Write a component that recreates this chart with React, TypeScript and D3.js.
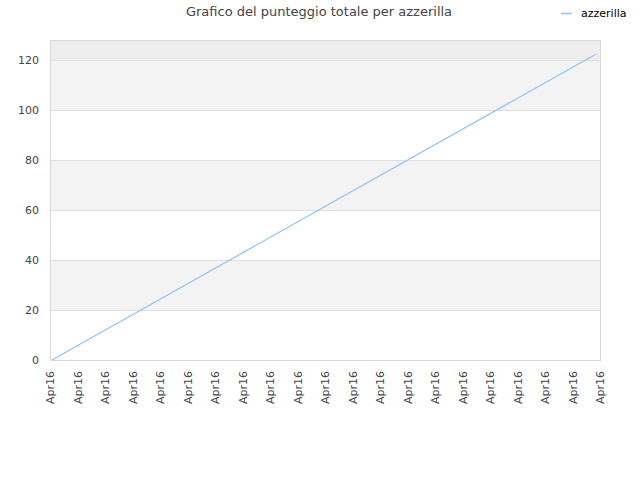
import { useEffect, useRef } from "react";
import * as d3 from "d3";

const tickLabels = Array.from({ length: 21 }, () => "Apr16");
// x positions are in tick units (0 = first tick, 20 = last tick)
const pointX = [0.07, 19.85];
const pointY = [0, 122.3];
const yTicks = [0, 20, 40, 60, 80, 100, 120];
const yMax = 128;
const seriesName = "azzerilla";
const title = "Grafico del punteggio totale per azzerilla";

export default function App() {
  const ref = useRef<SVGSVGElement>(null);

  useEffect(() => {
    if (!ref.current) return;
    const width = 640;
    const height = 480;
    const m = { top: 40, right: 40, bottom: 120, left: 50 };
    const font = "DejaVu Sans, sans-serif";

    const svg = d3.select(ref.current);
    svg.selectAll("*").remove();

    const x = d3.scaleLinear().domain([0, tickLabels.length - 1]).range([m.left, width - m.right]);
    const y = d3.scaleLinear().domain([0, yMax]).range([height - m.bottom, m.top]);

    // bands
    const bands = [...yTicks.slice(0, -1).map((t, i) => [t, yTicks[i + 1]]), [yTicks[yTicks.length - 1], yMax]];
    svg
      .append("g")
      .selectAll("rect")
      .data(bands)
      .enter()
      .append("rect")
      .attr("x", m.left)
      .attr("width", width - m.left - m.right)
      .attr("y", (d) => y(d[1]))
      .attr("height", (d) => y(d[0]) - y(d[1]))
      .attr("fill", (_d, i) => (i === bands.length - 1 ? "#ededed" : i % 2 === 1 ? "#f3f3f3" : "#ffffff"));

    // grid lines
    svg
      .append("g")
      .selectAll("line")
      .data(yTicks.slice(1))
      .enter()
      .append("line")
      .attr("x1", m.left)
      .attr("x2", width - m.right)
      .attr("y1", (d) => y(d) + 0.5)
      .attr("y2", (d) => y(d) + 0.5)
      .attr("stroke", "#e0e0e0");

    // frame
    svg
      .append("rect")
      .attr("x", m.left + 0.5)
      .attr("y", m.top + 0.5)
      .attr("width", width - m.left - m.right)
      .attr("height", height - m.top - m.bottom)
      .attr("fill", "none")
      .attr("stroke", "#d9d9d9");

    // y labels
    svg
      .append("g")
      .selectAll("text")
      .data(yTicks)
      .enter()
      .append("text")
      .attr("x", m.left - 11)
      .attr("y", (d) => y(d))
      .attr("dy", "0.35em")
      .attr("text-anchor", "end")
      .style("font-family", font)
      .style("font-size", "11px")
      .attr("fill", "#444")
      .text((d) => d);

    // x labels
    svg
      .append("g")
      .selectAll("text")
      .data(tickLabels)
      .enter()
      .append("text")
      .attr("transform", (_d, i) => `translate(${x(i) + 4},${height - m.bottom + 11}) rotate(-90)`)
      .attr("text-anchor", "end")
      .style("font-family", font)
      .style("font-size", "11px")
      .attr("fill", "#444")
      .text((d) => d);

    // line
    const pts = pointX.map((px, i) => [px, pointY[i]] as [number, number]);
    svg
      .append("path")
      .datum(pts)
      .attr("d", d3.line<[number, number]>().x((d) => x(d[0])).y((d) => y(d[1])))
      .attr("fill", "none")
      .attr("stroke", "#8ec3f5")
      .attr("stroke-width", 1.2);

    // title
    svg
      .append("text")
      .attr("x", 319)
      .attr("y", 16)
      .attr("text-anchor", "middle")
      .style("font-family", font)
      .style("font-size", "13px")
      .attr("fill", "#444")
      .text(title);

    // legend
    svg
      .append("line")
      .attr("x1", 561)
      .attr("x2", 572)
      .attr("y1", 13.5)
      .attr("y2", 13.5)
      .attr("stroke", "#8ec3f5")
      .attr("stroke-width", 1.5);
    svg
      .append("text")
      .attr("x", 581)
      .attr("y", 13)
      .attr("dy", "0.35em")
      .style("font-family", font)
      .style("font-size", "11px")
      .attr("fill", "#000")
      .text(seriesName);
  }, []);

  return <svg ref={ref} width={640} height={480} style={{ position: "absolute", left: 0, top: 0 }} />;
}
